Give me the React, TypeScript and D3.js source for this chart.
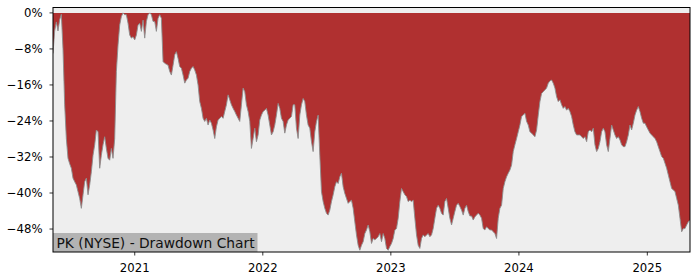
import React from "react";
import * as d3 from "d3";

// Sampling of the drawdown series (one reading every STEP_DAYS days from START_DATE)
const START_DATE = "2020-05-13";
const STEP_DAYS = 4.753;

// Drawdown in percent
const drawdown: number[] = [
  -9, -4, -2, -4, -1.5, -0.3, -8,
  -20.4, -27.9, -32.3, -33.5, -34.5, -36.7, -37.5, -38.2, -39.7, -41.2, -43.4, -40.4, -37.5, -36.7, -40.4, -38.2,
  -35.3, -31.6, -29.3, -26.0, -26.4, -34.5, -31.6, -29.3, -27.5, -30.1, -32.3, -32.7, -30.1, -32.3, -27.9,
  -13.0, -7.1, -2.7, -0.8, 0, -0.4, -0.4, -2.3, -4.9, -5.6, -5.3, -6.0, -4.9, -2.7, -2.3, -4.1, -1.6, -5.6, -1.9, -0.4, 0, -0.4, -1.9,
  -1.9, -4.1, -1.2, -0.4, -1.2, -10.8, -11.2, -11.4, -11.6, -13.0, -13.8, -11.6, -9.3, -8.6, -10.1, -11.9, -12.3, -13.8, -15.6, -14.9,
  -14.5, -13.0, -12.3, -11.9, -12.7, -13.8, -16.0, -19.7, -21.2, -23.4, -24.1, -23.4, -24.9, -23.8, -24.5, -26.0, -27.9, -25.3, -23.8,
  -23.4, -23.0, -23.4, -21.9, -20.4, -18.2, -19.3, -20.4, -21.2, -21.9, -22.7, -23.4, -24.1, -20.4, -16.7, -17.5, -20.4, -21.9, -24.1,
  -30.1, -27.9, -25.6, -28.6, -27.1,
  -23.8, -22.7, -21.9, -21.6, -21.2, -22.7, -24.9, -27.1, -26.4, -24.9, -22.7, -20.1, -21.2, -23.4, -24.1, -26.7, -24.9, -23.8, -23.4,
  -23.0, -20.4, -20.4, -25.6, -27.9, -22.7, -20.4, -19.0, -19.7, -22.7, -24.9, -25.6, -28.6, -30.8, -26.4, -24.1, -22.7, -31.6, -39.7,
  -41.9, -43.4, -44.5, -44.9, -43.8, -41.9, -40.4, -38.6, -37.5, -37.9, -36.4, -35.6, -38.6, -40.1, -41.2, -42.3, -41.9, -41.6, -43.4,
  -46.4, -49.3, -51.6, -52.7, -51.6, -50.8, -49.0, -48.2, -47.1,
  -48.6, -51.2, -50.1, -50.4, -50.1, -49.7, -49.0, -50.8, -49.0, -50.1, -52.3, -52.7, -51.9, -51.2, -50.1, -48.2, -47.9, -45.6, -41.9,
  -39.0, -39.7, -40.4, -40.8, -41.9, -41.6, -41.9, -41.6, -45.6, -49.3, -51.6, -52.3, -50.1, -49.3, -49.7, -49.3, -49.0, -49.7, -49.3,
  -47.9, -45.6, -43.4, -42.7, -43.4, -44.5, -44.9, -41.9, -41.2, -43.4, -45.6, -47.1, -45.6, -44.1, -42.7, -42.3, -43.0, -43.8, -44.9,
  -43.4, -42.7, -44.1, -45.1, -45.1, -46.0,
  -45.3, -44.9, -44.5, -44.9, -45.6, -47.9, -48.2, -47.5, -47.9, -48.2, -48.2, -48.6, -49.0, -50.1, -45.6, -43.4, -42.7, -39.0, -37.5,
  -36.4, -35.6, -34.9, -33.8, -30.8, -29.3, -27.9, -26.4, -24.9, -23.0, -22.7, -22.3, -24.1, -24.9, -26.4, -26.7, -27.1, -27.5, -26.0,
  -22.7, -19.7, -17.9, -17.5, -17.1, -16.7, -15.6, -15.1, -14.9, -15.6, -16.7, -18.6, -19.7, -19.3, -20.4, -21.2, -20.8, -21.6, -21.2,
  -21.9, -23.0, -24.9, -26.4, -27.1, -27.1,
  -27.1, -27.5, -27.9, -27.5, -28.6, -26.4, -26.0, -26.4, -25.6, -29.3, -30.8, -30.1, -28.6, -26.4, -25.6, -26.4, -29.3, -30.8, -27.9,
  -24.9, -26.0, -27.1, -27.9, -27.5, -28.2, -29.3, -29.7, -29.7, -28.6, -27.1, -24.9, -26.0, -24.5, -22.7, -21.6, -20.8, -21.9, -23.4,
  -24.5, -24.5, -25.3, -26.0, -26.7, -27.1, -27.5, -27.9, -28.6, -29.7, -30.8, -31.9, -32.3, -33.4, -34.5, -36.0, -37.5, -39.0, -39.3,
  -39.7, -41.2, -42.7, -45.6, -48.6, -47.9, -47.9, -47.1, -46.4, -46.0,
];

const yTicks = [0, -8, -16, -24, -32, -40, -48];
const xTickYears = [2021, 2022, 2023, 2024, 2025];
const Y_MIN = -53.1;
const Y_MAX = 1.2;
const TITLE = "PK (NYSE) - Drawdown Chart";

const W = 700;
const H = 280;
const M = { left: 53, right: 10, top: 7.5, bottom: 28 };

export default function App() {
  const start = new Date(START_DATE + "T00:00:00Z").getTime();
  const data = drawdown.map((v, i) => ({
    date: new Date(start + i * STEP_DAYS * 86400000),
    v,
  }));
  const x = d3
    .scaleUtc()
    .domain([data[0].date, data[data.length - 1].date])
    .range([M.left, W - M.right]);
  const y = d3.scaleLinear().domain([Y_MIN, Y_MAX]).range([H - M.bottom, M.top]);

  const area = d3
    .area<{ date: Date; v: number }>()
    .x((d) => x(d.date))
    .y0(y(0))
    .y1((d) => y(d.v));
  const line = d3
    .line<{ date: Date; v: number }>()
    .x((d) => x(d.date))
    .y((d) => y(d.v));

  const x0 = M.left;
  const x1 = W - M.right;
  const y0 = M.top;
  const y1 = H - M.bottom;
  const font = "'DejaVu Sans', sans-serif";

  return (
    <svg
      width={W}
      height={H}
      style={{ position: "absolute", left: 0, top: 0, background: "#fff" }}
    >
      <defs>
        <clipPath id="plot">
          <rect x={x0} y={y0} width={x1 - x0} height={y1 - y0} />
        </clipPath>
      </defs>
      <rect x={x0} y={y0} width={x1 - x0} height={y1 - y0} fill="#eeeeee" />
      <g clipPath="url(#plot)">
        <path d={area(data) || ""} fill="#b03030" />
        <path d={line(data) || ""} fill="none" stroke="#8c8c8c" strokeWidth={0.9} />
      </g>
      {/* title box */}
      <rect x={x0} y={233} width={204.5} height={y1 - 233} fill="#b3b3b3" />
      <text x={56.5} y={247.5} fontFamily={font} fontSize={13.8} fill="#111">
        {TITLE}
      </text>
      {/* frame */}
      <rect x={x0} y={y0} width={x1 - x0} height={y1 - y0} fill="none" stroke="#000" strokeWidth={1} />
      {/* y axis */}
      {yTicks.map((t) => (
        <g key={t}>
          <line x1={x0 - 3.5} x2={x0} y1={y(t)} y2={y(t)} stroke="#000" strokeWidth={0.8} />
          <text
            x={x0 - 10.5}
            y={y(t)}
            dy="0.36em"
            textAnchor="end"
            fontFamily={font}
            fontSize={11.7}
            fill="#000"
          >
            {(t < 0 ? "\u2212" + Math.abs(t) : String(t)) + "%"}
          </text>
        </g>
      ))}
      {/* x axis */}
      {xTickYears.map((yr) => {
        const px = x(new Date(Date.UTC(yr, 0, 1)));
        return (
          <g key={yr}>
            <line x1={px} x2={px} y1={y1} y2={y1 + 3.5} stroke="#000" strokeWidth={0.8} />
            <text
              x={px}
              y={271.5}
              textAnchor="middle"
              fontFamily={font}
              fontSize={11.7}
              fill="#000"
            >
              {yr}
            </text>
          </g>
        );
      })}
    </svg>
  );
}
